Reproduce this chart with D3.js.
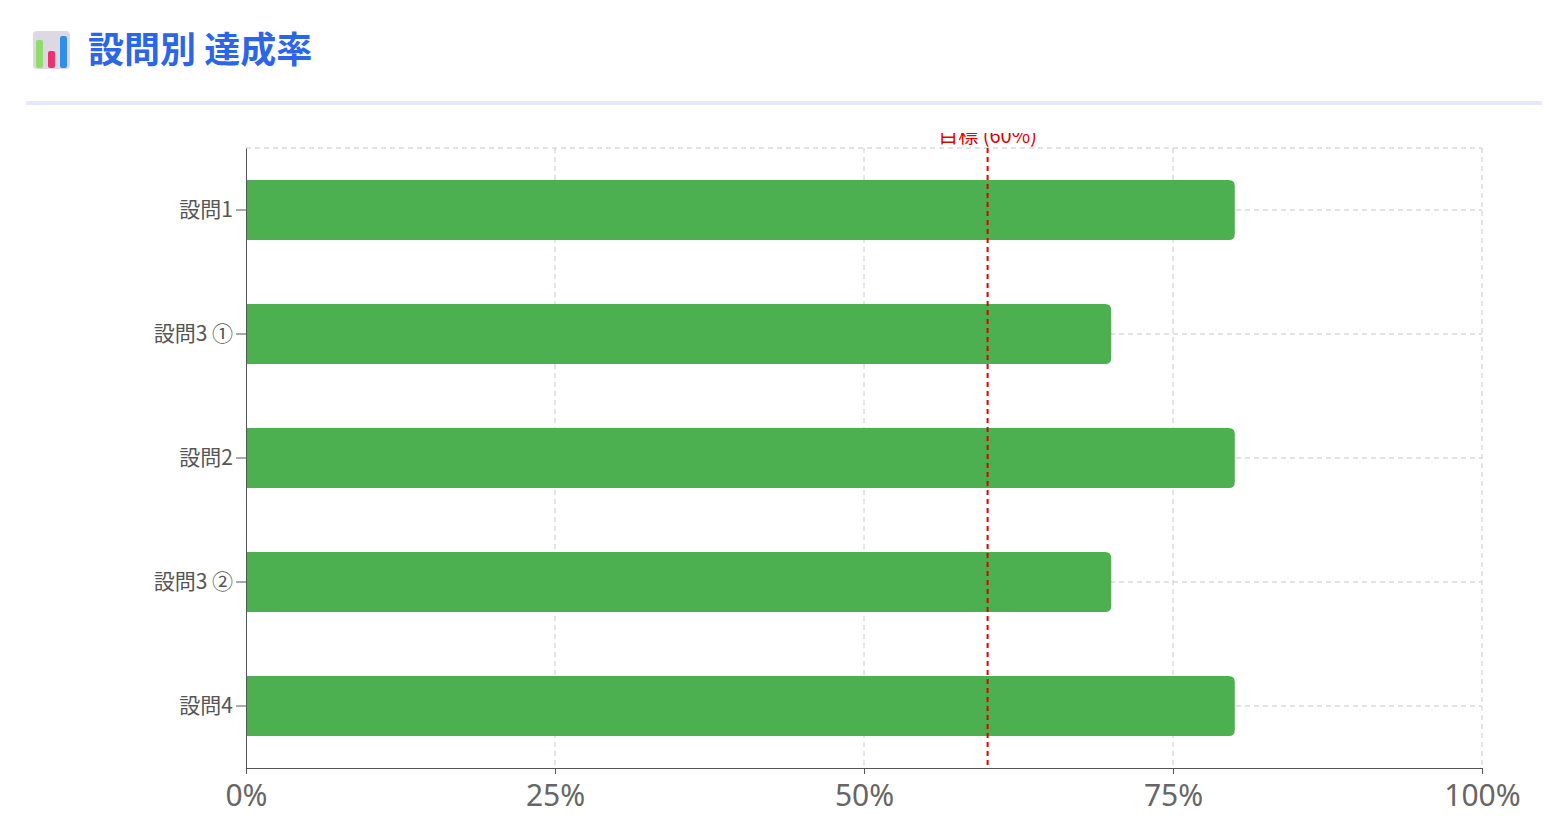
<!DOCTYPE html>
<html><head><meta charset="utf-8">
<script src="https://cdn.jsdelivr.net/npm/d3@7"></script>
<style>body{margin:0;background:#fff;font-family:"Noto Sans CJK JP","Noto Sans",sans-serif;}</style>
</head><body><svg id="c" width="1549" height="830"></svg>
<script>
const categories = ["設問1","設問3 ①","設問2","設問3 ②","設問4"];
const rates = [80,70,80,70,80];
const xTicks = [0,25,50,75,100];
const target = 60;
const targetLabel = "目標 (60%)";

const svg = d3.select("#c");
// title icon
const ic = svg.append("g").attr("transform","translate(33,31)");
ic.append("rect").attr("width",37).attr("height",38).attr("rx",4).attr("fill","#dcd8e4");
ic.append("rect").attr("x",3).attr("y",9).attr("width",7).attr("height",28).attr("rx",2).attr("fill","#8fdc6a");
ic.append("rect").attr("x",15).attr("y",20).attr("width",7).attr("height",17).attr("rx",2).attr("fill","#e8346f");
ic.append("rect").attr("x",27).attr("y",5).attr("width",7).attr("height",32).attr("rx",2).attr("fill","#2f8fe8");
svg.append("text").attr("x",88).attr("y",63).attr("font-size",36).attr("font-weight",700)
  .attr("fill","#2b66e8").text("設問別 達成率");
svg.append("rect").attr("x",26).attr("y",101).attr("width",1516).attr("height",4).attr("fill","#e3e9fb");

const L=246,R=1482,T=148,B=768;
const x=d3.scaleLinear().domain([0,100]).range([L,R]);
const y=d3.scaleBand().domain(categories).range([T,B]).paddingInner(0.516).paddingOuter(0.258);
const g=svg.append("g");
// grid
g.selectAll(".vg").data(xTicks.slice(1)).join("line").attr("x1",d=>x(d)).attr("x2",d=>x(d))
 .attr("y1",T).attr("y2",B).attr("stroke","#c8c8c8").attr("stroke-dasharray","5,4");
g.selectAll(".hg").data(categories).join("line").attr("x1",L).attr("x2",R)
 .attr("y1",d=>y(d)+y.bandwidth()/2).attr("y2",d=>y(d)+y.bandwidth()/2).attr("stroke","#c8c8c8").attr("stroke-dasharray","5,4");
g.append("line").attr("x1",L).attr("x2",R).attr("y1",T).attr("y2",T).attr("stroke","#c8c8c8").attr("stroke-dasharray","5,4");
// bars
g.selectAll(".bar").data(rates).join("path").attr("fill","#4caf50")
 .attr("d",(d,i)=>{const x0=x(0),x1=x(d),y0=y(categories[i]),h=y.bandwidth(),r=6;
   return `M${x0},${y0}H${x1-r}Q${x1},${y0} ${x1},${y0+r}V${y0+h-r}Q${x1},${y0+h} ${x1-r},${y0+h}H${x0}Z`;});
// target
g.append("line").attr("x1",x(target)).attr("x2",x(target)).attr("y1",T).attr("y2",B)
 .attr("stroke","#e00000").attr("stroke-width",2).attr("stroke-dasharray","5,4");
svg.append("clipPath").attr("id","cl").append("rect").attr("x",0).attr("y",133).attr("width",1549).attr("height",20);
svg.append("text").attr("clip-path","url(#cl)").attr("x",x(target)).attr("y",143).attr("text-anchor","middle")
 .attr("font-size",20).attr("fill","#e00000").text(targetLabel);
// axes
const xa=svg.append("g").attr("transform",`translate(0,${B})`).call(d3.axisBottom(x).tickValues(xTicks).tickFormat(d=>d+"%").tickSize(6));
xa.selectAll("text").attr("font-size",30).attr("fill","#666").attr("dy","0.95em").attr("font-family","Noto Sans,sans-serif");
xa.selectAll("line,path").attr("stroke","#555");
const ya=svg.append("g").attr("transform",`translate(${L},0)`).call(d3.axisLeft(y).tickSize(10).tickSizeOuter(0));
ya.selectAll("text").attr("font-size",21).attr("fill","#555").attr("font-family","Noto Sans CJK JP,sans-serif");
ya.selectAll("line,path").attr("stroke","#555");
</script></body></html>
